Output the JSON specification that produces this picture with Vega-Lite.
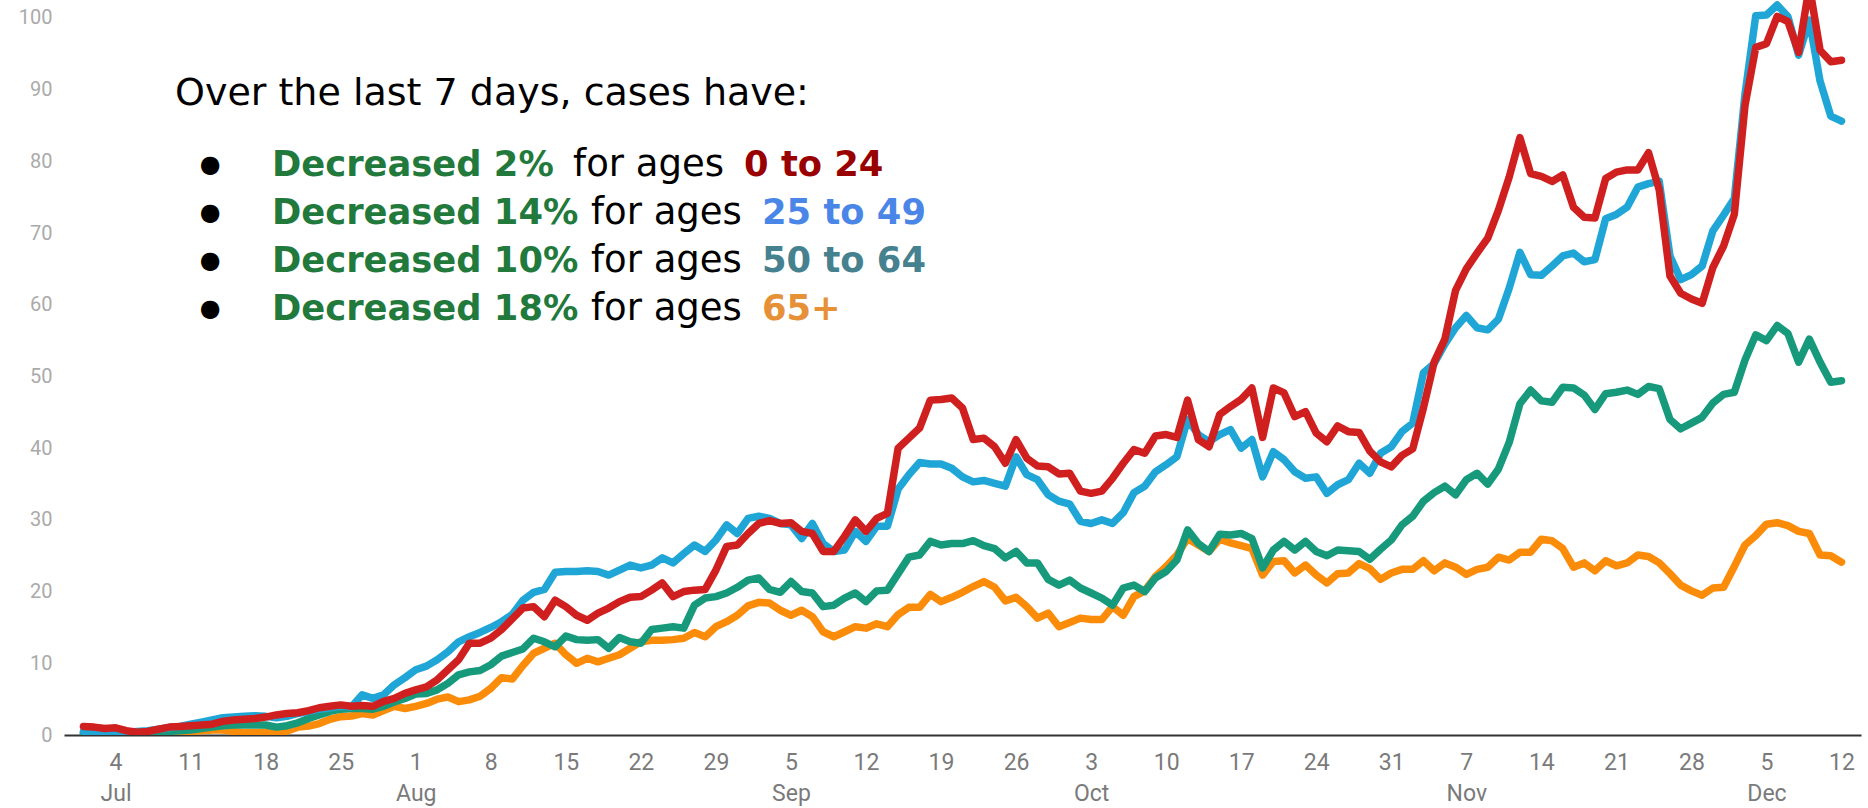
{
  "$schema": "https://vega.github.io/schema/vega-lite/v6.json",
  "width": 1797,
  "height": 735,
  "autosize": {"type": "none"},
  "padding": {"left": 64, "top": 0, "right": 7, "bottom": 73},
  "background": "white",
  "config": {"view": {"stroke": null}, "axis": {"grid": false}},
  "data": {
    "format": {"parse": {"d": "date:'%Y-%m-%d'"}},
    "values": [
      {"d":"2020-07-01","r":1.2,"b":0.5,"g":0.2,"o":0.3},
      {"d":"2020-07-02","r":1.1,"b":0.5,"g":0.3,"o":0.2},
      {"d":"2020-07-03","r":0.9,"b":0.4,"g":0.3,"o":0.2},
      {"d":"2020-07-04","r":1.0,"b":0.4,"g":0.3,"o":0.1},
      {"d":"2020-07-05","r":0.6,"b":0.4,"g":0.3,"o":0.2},
      {"d":"2020-07-06","r":0.4,"b":0.5,"g":0.3,"o":0.2},
      {"d":"2020-07-07","r":0.5,"b":0.6,"g":0.4,"o":0.3},
      {"d":"2020-07-08","r":0.8,"b":0.8,"g":0.4,"o":0.3},
      {"d":"2020-07-09","r":1.1,"b":1.0,"g":0.5,"o":0.4},
      {"d":"2020-07-10","r":1.2,"b":1.2,"g":0.6,"o":0.5},
      {"d":"2020-07-11","r":1.3,"b":1.5,"g":0.7,"o":0.5},
      {"d":"2020-07-12","r":1.4,"b":1.8,"g":0.9,"o":0.6},
      {"d":"2020-07-13","r":1.5,"b":2.1,"g":1.1,"o":0.7},
      {"d":"2020-07-14","r":1.9,"b":2.4,"g":1.3,"o":0.7},
      {"d":"2020-07-15","r":2.1,"b":2.5,"g":1.4,"o":0.5},
      {"d":"2020-07-16","r":2.2,"b":2.6,"g":1.4,"o":0.3},
      {"d":"2020-07-17","r":2.3,"b":2.7,"g":1.4,"o":0.3},
      {"d":"2020-07-18","r":2.5,"b":2.6,"g":1.4,"o":0.4},
      {"d":"2020-07-19","r":2.8,"b":2.4,"g":1.1,"o":0.3},
      {"d":"2020-07-20","r":3.0,"b":2.6,"g":1.3,"o":0.55},
      {"d":"2020-07-21","r":3.1,"b":3.0,"g":1.7,"o":1.1},
      {"d":"2020-07-22","r":3.4,"b":3.3,"g":2.3,"o":1.25},
      {"d":"2020-07-23","r":3.8,"b":3.6,"g":2.8,"o":1.6},
      {"d":"2020-07-24","r":4.0,"b":3.8,"g":3.3,"o":2.2},
      {"d":"2020-07-25","r":4.2,"b":4.0,"g":3.6,"o":2.55},
      {"d":"2020-07-26","r":4.0,"b":3.9,"g":3.7,"o":2.65},
      {"d":"2020-07-27","r":4.1,"b":5.6,"g":3.7,"o":3.0},
      {"d":"2020-07-28","r":4.0,"b":5.1,"g":3.6,"o":2.8},
      {"d":"2020-07-29","r":4.7,"b":5.6,"g":4.0,"o":3.4},
      {"d":"2020-07-30","r":5.1,"b":7.0,"g":4.6,"o":4.0},
      {"d":"2020-07-31","r":5.8,"b":8.0,"g":5.1,"o":3.7},
      {"d":"2020-08-01","r":6.3,"b":9.1,"g":5.7,"o":4.0},
      {"d":"2020-08-02","r":6.7,"b":9.6,"g":5.8,"o":4.4},
      {"d":"2020-08-03","r":7.7,"b":10.5,"g":6.3,"o":5.0},
      {"d":"2020-08-04","r":9.1,"b":11.6,"g":7.2,"o":5.3},
      {"d":"2020-08-05","r":10.5,"b":13.0,"g":8.4,"o":4.65},
      {"d":"2020-08-06","r":12.8,"b":13.7,"g":8.8,"o":4.9},
      {"d":"2020-08-07","r":12.8,"b":14.3,"g":9.0,"o":5.4},
      {"d":"2020-08-08","r":13.5,"b":15.0,"g":9.8,"o":6.5},
      {"d":"2020-08-09","r":14.7,"b":15.8,"g":11.0,"o":8.0},
      {"d":"2020-08-10","r":16.2,"b":16.8,"g":11.5,"o":7.8},
      {"d":"2020-08-11","r":17.7,"b":18.8,"g":12.0,"o":9.7},
      {"d":"2020-08-12","r":17.9,"b":19.9,"g":13.5,"o":11.4},
      {"d":"2020-08-13","r":16.5,"b":20.3,"g":13.0,"o":12.1},
      {"d":"2020-08-14","r":18.8,"b":22.7,"g":12.3,"o":12.8},
      {"d":"2020-08-15","r":17.9,"b":22.8,"g":13.8,"o":11.2},
      {"d":"2020-08-16","r":16.7,"b":22.8,"g":13.3,"o":10.0},
      {"d":"2020-08-17","r":16.0,"b":22.9,"g":13.2,"o":10.7},
      {"d":"2020-08-18","r":17.0,"b":22.8,"g":13.3,"o":10.2},
      {"d":"2020-08-19","r":17.7,"b":22.3,"g":12.1,"o":10.7},
      {"d":"2020-08-20","r":18.6,"b":23.0,"g":13.6,"o":11.2},
      {"d":"2020-08-21","r":19.2,"b":23.7,"g":13.0,"o":12.1},
      {"d":"2020-08-22","r":19.3,"b":23.3,"g":12.8,"o":13.0},
      {"d":"2020-08-23","r":20.2,"b":23.7,"g":14.7,"o":13.2},
      {"d":"2020-08-24","r":21.2,"b":24.7,"g":14.9,"o":13.2},
      {"d":"2020-08-25","r":19.3,"b":24.0,"g":15.1,"o":13.3},
      {"d":"2020-08-26","r":20.0,"b":25.3,"g":14.9,"o":13.5},
      {"d":"2020-08-27","r":20.2,"b":26.5,"g":18.1,"o":14.3},
      {"d":"2020-08-28","r":20.3,"b":25.6,"g":19.1,"o":13.7},
      {"d":"2020-08-29","r":23.0,"b":27.2,"g":19.3,"o":15.1},
      {"d":"2020-08-30","r":26.3,"b":29.3,"g":19.8,"o":15.8},
      {"d":"2020-08-31","r":26.5,"b":28.1,"g":20.6,"o":16.7},
      {"d":"2020-09-01","r":28.1,"b":30.2,"g":21.6,"o":18.0},
      {"d":"2020-09-02","r":29.5,"b":30.5,"g":21.9,"o":18.5},
      {"d":"2020-09-03","r":29.9,"b":30.2,"g":20.3,"o":18.4},
      {"d":"2020-09-04","r":29.5,"b":29.5,"g":19.9,"o":17.4},
      {"d":"2020-09-05","r":29.6,"b":29.3,"g":21.4,"o":16.7},
      {"d":"2020-09-06","r":28.4,"b":27.4,"g":20.0,"o":17.4},
      {"d":"2020-09-07","r":28.1,"b":29.5,"g":19.8,"o":16.5},
      {"d":"2020-09-08","r":25.6,"b":26.7,"g":17.9,"o":14.4},
      {"d":"2020-09-09","r":25.6,"b":25.6,"g":18.1,"o":13.7},
      {"d":"2020-09-10","r":27.7,"b":25.8,"g":19.1,"o":14.4},
      {"d":"2020-09-11","r":30.0,"b":28.4,"g":19.8,"o":15.1},
      {"d":"2020-09-12","r":28.4,"b":27.0,"g":18.6,"o":14.9},
      {"d":"2020-09-13","r":30.2,"b":29.1,"g":20.1,"o":15.5},
      {"d":"2020-09-14","r":30.9,"b":29.1,"g":20.2,"o":15.1},
      {"d":"2020-09-15","r":40.0,"b":34.3,"g":22.5,"o":16.8},
      {"d":"2020-09-16","r":41.4,"b":36.3,"g":24.8,"o":17.8},
      {"d":"2020-09-17","r":42.8,"b":38.0,"g":25.1,"o":17.8},
      {"d":"2020-09-18","r":46.7,"b":37.8,"g":27.0,"o":19.6},
      {"d":"2020-09-19","r":46.8,"b":37.8,"g":26.5,"o":18.6},
      {"d":"2020-09-20","r":47.0,"b":37.2,"g":26.7,"o":19.2},
      {"d":"2020-09-21","r":45.6,"b":36.0,"g":26.7,"o":19.9},
      {"d":"2020-09-22","r":41.2,"b":35.3,"g":27.1,"o":20.7},
      {"d":"2020-09-23","r":41.4,"b":35.5,"g":26.4,"o":21.4},
      {"d":"2020-09-24","r":40.2,"b":35.1,"g":26.0,"o":20.6},
      {"d":"2020-09-25","r":37.9,"b":34.7,"g":24.7,"o":18.7},
      {"d":"2020-09-26","r":41.2,"b":38.8,"g":25.6,"o":19.2},
      {"d":"2020-09-27","r":38.6,"b":36.3,"g":24.0,"o":17.9},
      {"d":"2020-09-28","r":37.5,"b":35.6,"g":24.0,"o":16.3},
      {"d":"2020-09-29","r":37.4,"b":33.5,"g":21.7,"o":17.0},
      {"d":"2020-09-30","r":36.4,"b":32.6,"g":20.9,"o":15.1},
      {"d":"2020-10-01","r":36.5,"b":32.2,"g":21.6,"o":15.7},
      {"d":"2020-10-02","r":34.0,"b":29.8,"g":20.5,"o":16.3},
      {"d":"2020-10-03","r":33.7,"b":29.5,"g":19.8,"o":16.1},
      {"d":"2020-10-04","r":34.0,"b":30.0,"g":19.1,"o":16.1},
      {"d":"2020-10-05","r":35.8,"b":29.5,"g":18.1,"o":17.9},
      {"d":"2020-10-06","r":37.9,"b":31.0,"g":20.5,"o":16.7},
      {"d":"2020-10-07","r":39.8,"b":33.8,"g":20.9,"o":19.3},
      {"d":"2020-10-08","r":39.3,"b":34.7,"g":20.0,"o":20.1},
      {"d":"2020-10-09","r":41.7,"b":36.7,"g":21.9,"o":22.1},
      {"d":"2020-10-10","r":41.9,"b":37.7,"g":22.8,"o":23.5},
      {"d":"2020-10-11","r":41.5,"b":38.8,"g":24.4,"o":25.1},
      {"d":"2020-10-12","r":46.7,"b":44.0,"g":28.6,"o":27.4},
      {"d":"2020-10-13","r":41.2,"b":41.9,"g":26.7,"o":26.5},
      {"d":"2020-10-14","r":40.2,"b":40.9,"g":25.6,"o":25.6},
      {"d":"2020-10-15","r":44.7,"b":41.9,"g":28.0,"o":27.3},
      {"d":"2020-10-16","r":45.8,"b":42.6,"g":27.9,"o":26.8},
      {"d":"2020-10-17","r":46.8,"b":40.0,"g":28.1,"o":26.4},
      {"d":"2020-10-18","r":48.4,"b":41.2,"g":27.4,"o":26.0},
      {"d":"2020-10-19","r":41.5,"b":36.0,"g":23.3,"o":22.3},
      {"d":"2020-10-20","r":48.4,"b":39.5,"g":25.8,"o":24.2},
      {"d":"2020-10-21","r":47.7,"b":38.4,"g":27.0,"o":24.3},
      {"d":"2020-10-22","r":44.4,"b":36.7,"g":25.8,"o":22.6},
      {"d":"2020-10-23","r":45.1,"b":35.8,"g":27.0,"o":23.7},
      {"d":"2020-10-24","r":42.1,"b":36.0,"g":25.6,"o":22.3},
      {"d":"2020-10-25","r":40.9,"b":33.7,"g":25.0,"o":21.2},
      {"d":"2020-10-26","r":43.1,"b":34.9,"g":25.8,"o":22.5},
      {"d":"2020-10-27","r":42.3,"b":35.6,"g":25.7,"o":22.6},
      {"d":"2020-10-28","r":42.2,"b":37.9,"g":25.6,"o":23.9},
      {"d":"2020-10-29","r":39.6,"b":36.5,"g":24.5,"o":23.2},
      {"d":"2020-10-30","r":38.1,"b":39.3,"g":25.9,"o":21.7},
      {"d":"2020-10-31","r":37.4,"b":40.2,"g":27.2,"o":22.6},
      {"d":"2020-11-01","r":39.0,"b":42.3,"g":29.3,"o":23.1},
      {"d":"2020-11-02","r":39.9,"b":43.5,"g":30.5,"o":23.1},
      {"d":"2020-11-03","r":45.6,"b":50.5,"g":32.6,"o":24.3},
      {"d":"2020-11-04","r":52.0,"b":51.8,"g":33.8,"o":22.9},
      {"d":"2020-11-05","r":55.2,"b":54.5,"g":34.7,"o":24.0},
      {"d":"2020-11-06","r":62.0,"b":56.8,"g":33.5,"o":23.4},
      {"d":"2020-11-07","r":65.0,"b":58.5,"g":35.6,"o":22.4},
      {"d":"2020-11-08","r":67.2,"b":56.8,"g":36.5,"o":23.1},
      {"d":"2020-11-09","r":69.3,"b":56.5,"g":35.0,"o":23.4},
      {"d":"2020-11-10","r":73.2,"b":58.0,"g":37.1,"o":24.8},
      {"d":"2020-11-11","r":77.8,"b":62.3,"g":40.8,"o":24.4},
      {"d":"2020-11-12","r":83.3,"b":67.3,"g":46.2,"o":25.5},
      {"d":"2020-11-13","r":78.3,"b":64.2,"g":48.1,"o":25.5},
      {"d":"2020-11-14","r":77.9,"b":64.1,"g":46.6,"o":27.3},
      {"d":"2020-11-15","r":77.2,"b":65.4,"g":46.4,"o":27.1},
      {"d":"2020-11-16","r":78.1,"b":66.8,"g":48.5,"o":26.0},
      {"d":"2020-11-17","r":73.6,"b":67.2,"g":48.4,"o":23.4},
      {"d":"2020-11-18","r":72.2,"b":66.0,"g":47.4,"o":24.0},
      {"d":"2020-11-19","r":72.1,"b":66.3,"g":45.4,"o":22.9},
      {"d":"2020-11-20","r":77.6,"b":72.0,"g":47.6,"o":24.3},
      {"d":"2020-11-21","r":78.5,"b":72.6,"g":47.8,"o":23.6},
      {"d":"2020-11-22","r":78.8,"b":73.6,"g":48.1,"o":24.0},
      {"d":"2020-11-23","r":78.8,"b":76.4,"g":47.5,"o":25.1},
      {"d":"2020-11-24","r":81.2,"b":76.9,"g":48.6,"o":24.9},
      {"d":"2020-11-25","r":76.0,"b":77.2,"g":48.3,"o":24.0},
      {"d":"2020-11-26","r":64.0,"b":66.8,"g":44.0,"o":22.5},
      {"d":"2020-11-27","r":61.6,"b":63.5,"g":42.7,"o":20.9},
      {"d":"2020-11-28","r":60.8,"b":64.2,"g":43.5,"o":20.1},
      {"d":"2020-11-29","r":60.2,"b":65.4,"g":44.3,"o":19.5},
      {"d":"2020-11-30","r":65.2,"b":70.3,"g":46.3,"o":20.5},
      {"d":"2020-12-01","r":68.2,"b":72.5,"g":47.5,"o":20.6},
      {"d":"2020-12-02","r":72.6,"b":74.8,"g":47.8,"o":23.5},
      {"d":"2020-12-03","r":87.8,"b":89.4,"g":52.3,"o":26.5},
      {"d":"2020-12-04","r":95.9,"b":100.3,"g":55.8,"o":27.8},
      {"d":"2020-12-05","r":96.4,"b":100.4,"g":55.0,"o":29.4},
      {"d":"2020-12-06","r":100.2,"b":101.8,"g":57.1,"o":29.6},
      {"d":"2020-12-07","r":99.5,"b":100.2,"g":56.0,"o":29.2},
      {"d":"2020-12-08","r":95.2,"b":94.8,"g":52.0,"o":28.4},
      {"d":"2020-12-09","r":104.5,"b":99.7,"g":55.2,"o":28.1},
      {"d":"2020-12-10","r":95.5,"b":91.2,"g":52.0,"o":25.1},
      {"d":"2020-12-11","r":93.9,"b":86.3,"g":49.2,"o":25.0},
      {"d":"2020-12-12","r":94.1,"b":85.6,"g":49.4,"o":24.1}
    ]
  },
  "layer": [
    {
      "mark": {"type": "line", "color": "#fb8c0a", "strokeWidth": 7.5, "strokeJoin": "round", "strokeCap": "round", "clip": true},
      "encoding": {
        "x": {
          "field": "d", "type": "temporal", "title": null,
          "scale": {"domain": [{"year": 2020, "month": 6, "date": 29, "hours": 4, "minutes": 30}, {"year": 2020, "month": 12, "date": 13, "hours": 19, "minutes": 40}]},
          "axis": {
            "values": [
              {"year": 2020, "month": 7, "date": 4}, {"year": 2020, "month": 7, "date": 11}, {"year": 2020, "month": 7, "date": 18}, {"year": 2020, "month": 7, "date": 25},
              {"year": 2020, "month": 8, "date": 1}, {"year": 2020, "month": 8, "date": 8}, {"year": 2020, "month": 8, "date": 15}, {"year": 2020, "month": 8, "date": 22}, {"year": 2020, "month": 8, "date": 29},
              {"year": 2020, "month": 9, "date": 5}, {"year": 2020, "month": 9, "date": 12}, {"year": 2020, "month": 9, "date": 19}, {"year": 2020, "month": 9, "date": 26},
              {"year": 2020, "month": 10, "date": 3}, {"year": 2020, "month": 10, "date": 10}, {"year": 2020, "month": 10, "date": 17}, {"year": 2020, "month": 10, "date": 24}, {"year": 2020, "month": 10, "date": 31},
              {"year": 2020, "month": 11, "date": 7}, {"year": 2020, "month": 11, "date": 14}, {"year": 2020, "month": 11, "date": 21}, {"year": 2020, "month": 11, "date": 28},
              {"year": 2020, "month": 12, "date": 5}, {"year": 2020, "month": 12, "date": 12}
            ],
            "labelExpr": "date(datum.value) <= 7 ? [timeFormat(datum.value, '%-d'), timeFormat(datum.value, '%b')] : timeFormat(datum.value, '%-d')",
            "ticks": false, "grid": false,
            "domainColor": "#333333", "domainWidth": 2,
            "labelFont": "Roboto", "labelFontSize": 23, "labelColor": "#7a7a7a",
            "labelPadding": 16, "labelLineHeight": 31, "labelFlush": false, "labelOverlap": false
          }
        },
        "y": {
          "field": "o", "type": "quantitative", "title": null,
          "scale": {"domain": [0, 102.5], "nice": false, "zero": true},
          "axis": {
            "values": [0, 10, 20, 30, 40, 50, 60, 70, 80, 90, 100],
            "domain": false, "ticks": false, "grid": false,
            "labelFont": "Roboto", "labelFontSize": 20, "labelColor": "#aaaaaa", "labelPadding": 12
          }
        }
      }
    },
    {
      "mark": {"type": "line", "color": "#179a7b", "strokeWidth": 7.5, "strokeJoin": "round", "strokeCap": "round", "clip": true},
      "encoding": {
        "x": {"field": "d", "type": "temporal", "title": null},
        "y": {"field": "g", "type": "quantitative", "title": null}
      }
    },
    {
      "mark": {"type": "line", "color": "#1fa6d6", "strokeWidth": 7.5, "strokeJoin": "round", "strokeCap": "round", "clip": true},
      "encoding": {
        "x": {"field": "d", "type": "temporal", "title": null},
        "y": {"field": "b", "type": "quantitative", "title": null}
      }
    },
    {
      "mark": {"type": "line", "color": "#d01f1f", "strokeWidth": 7.5, "strokeJoin": "round", "strokeCap": "round", "clip": true},
      "encoding": {
        "x": {"field": "d", "type": "temporal", "title": null},
        "y": {"field": "r", "type": "quantitative", "title": null}
      }
    },
    {
      "data": {"values": [{}]},
      "mark": {"type": "text", "text": "Over the last 7 days, cases have:", "font": "DejaVu Sans", "fontSize": 38, "align": "left", "baseline": "middle", "color": "#000000"},
      "encoding": {
        "x": {"datum": {"year": 2020, "month": 7, "date": 9, "hours": 13}, "type": "temporal", "title": null},
        "y": {"datum": 89.4, "type": "quantitative", "title": null}
      }
    },
    {
      "data": {"values": [{}]},
      "mark": {"type": "text", "text": ["●", "●", "●", "●"], "font": "DejaVu Sans", "fontSize": 24, "lineHeight": 47.7, "align": "center", "baseline": "middle", "color": "#000000"},
      "encoding": {
        "x": {"datum": {"year": 2020, "month": 7, "date": 12, "hours": 19, "minutes": 40}, "type": "temporal", "title": null},
        "y": {"datum": 79.43, "type": "quantitative", "title": null}
      }
    },
    {
      "data": {"values": [{}]},
      "mark": {"type": "text", "text": ["Decreased 2%", "Decreased 14%", "Decreased 10%", "Decreased 18%"], "font": "DejaVu Sans", "fontWeight": "bold", "fontSize": 35.3, "lineHeight": 47.7, "align": "left", "baseline": "middle", "color": "#217a3c"},
      "encoding": {
        "x": {"datum": {"year": 2020, "month": 7, "date": 18, "hours": 14, "minutes": 10}, "type": "temporal", "title": null},
        "y": {"datum": 79.43, "type": "quantitative", "title": null}
      }
    },
    {
      "data": {"values": [{}]},
      "mark": {"type": "text", "text": "for ages", "font": "DejaVu Sans", "fontSize": 37, "align": "left", "baseline": "middle", "color": "#000000"},
      "encoding": {
        "x": {"datum": {"year": 2020, "month": 8, "date": 15, "hours": 16, "minutes": 20}, "type": "temporal", "title": null},
        "y": {"datum": 79.43, "type": "quantitative", "title": null}
      }
    },
    {
      "data": {"values": [{}]},
      "mark": {"type": "text", "text": ["for ages", "for ages", "for ages"], "font": "DejaVu Sans", "fontSize": 37, "lineHeight": 47.7, "align": "left", "baseline": "middle", "color": "#000000"},
      "encoding": {
        "x": {"datum": {"year": 2020, "month": 8, "date": 17, "hours": 8, "minutes": 24}, "type": "temporal", "title": null},
        "y": {"datum": 72.78, "type": "quantitative", "title": null}
      }
    },
    {
      "data": {"values": [{}]},
      "mark": {"type": "text", "text": "0 to 24", "font": "DejaVu Sans", "fontWeight": "bold", "fontSize": 35.3, "align": "left", "baseline": "middle", "color": "#990000"},
      "encoding": {
        "x": {"datum": {"year": 2020, "month": 8, "date": 31, "hours": 15}, "type": "temporal", "title": null},
        "y": {"datum": 79.43, "type": "quantitative", "title": null}
      }
    },
    {
      "data": {"values": [{}]},
      "mark": {"type": "text", "text": "25 to 49", "font": "DejaVu Sans", "fontWeight": "bold", "fontSize": 35.3, "align": "left", "baseline": "middle", "color": "#4a86e8"},
      "encoding": {
        "x": {"datum": {"year": 2020, "month": 9, "date": 2, "hours": 7, "minutes": 12}, "type": "temporal", "title": null},
        "y": {"datum": 72.78, "type": "quantitative", "title": null}
      }
    },
    {
      "data": {"values": [{}]},
      "mark": {"type": "text", "text": "50 to 64", "font": "DejaVu Sans", "fontWeight": "bold", "fontSize": 35.3, "align": "left", "baseline": "middle", "color": "#45818e"},
      "encoding": {
        "x": {"datum": {"year": 2020, "month": 9, "date": 2, "hours": 7, "minutes": 12}, "type": "temporal", "title": null},
        "y": {"datum": 66.12, "type": "quantitative", "title": null}
      }
    },
    {
      "data": {"values": [{}]},
      "mark": {"type": "text", "text": "65+", "font": "DejaVu Sans", "fontWeight": "bold", "fontSize": 35.3, "align": "left", "baseline": "middle", "color": "#e69138"},
      "encoding": {
        "x": {"datum": {"year": 2020, "month": 9, "date": 2, "hours": 7, "minutes": 12}, "type": "temporal", "title": null},
        "y": {"datum": 59.47, "type": "quantitative", "title": null}
      }
    }
  ]
}
